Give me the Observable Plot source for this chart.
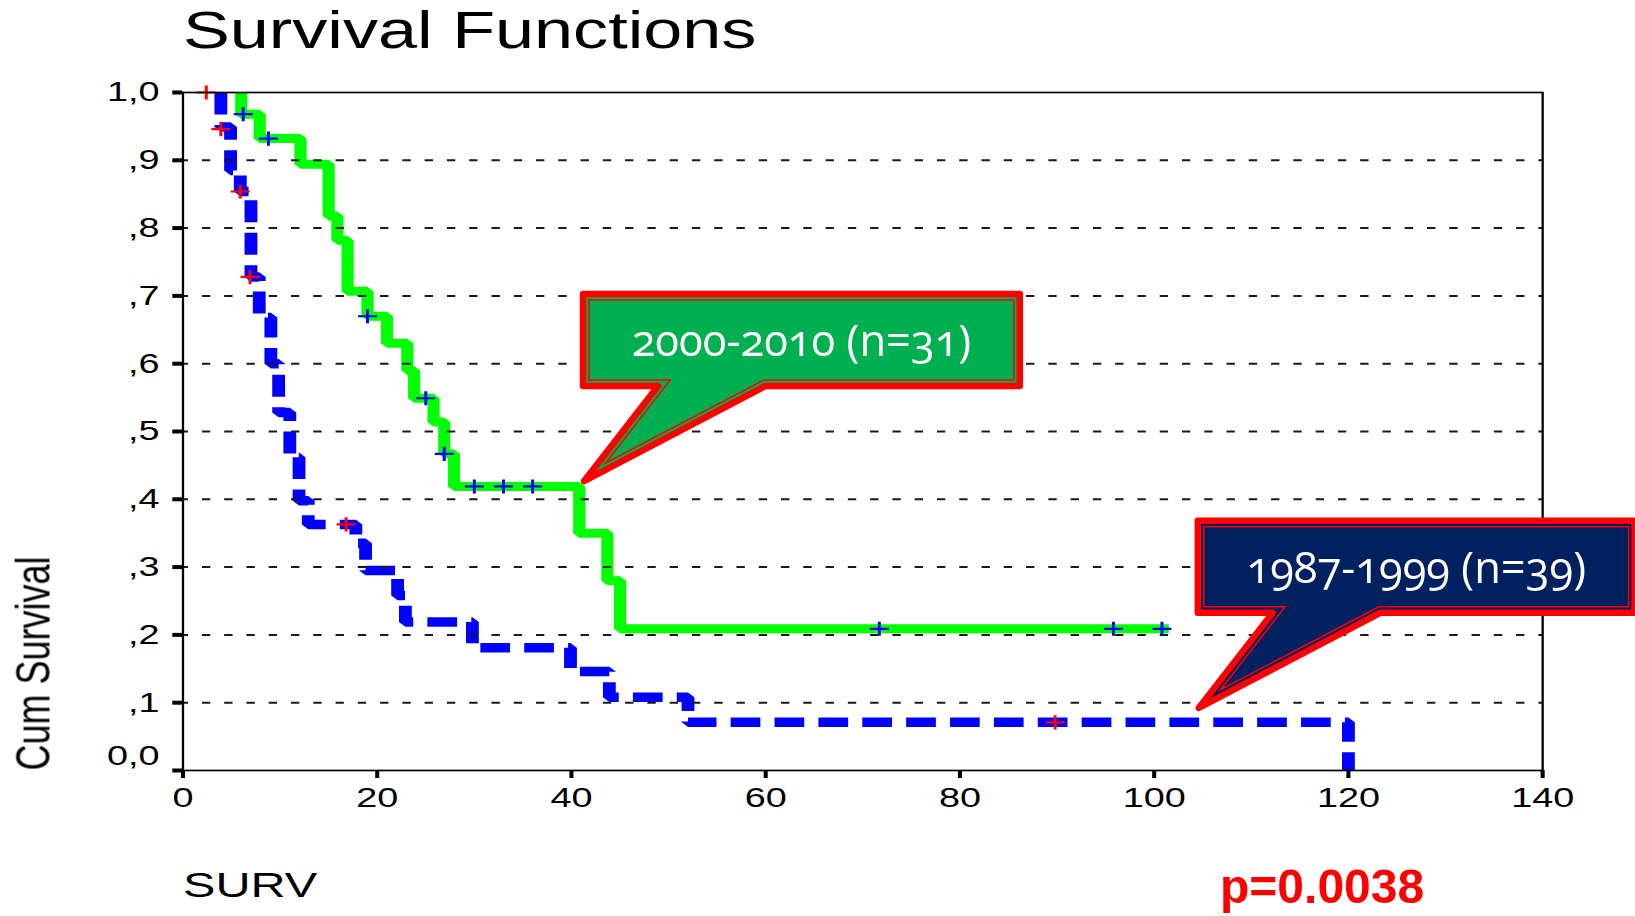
<!DOCTYPE html>
<html><head><meta charset="utf-8">
<script src="https://cdn.jsdelivr.net/npm/d3@7"></script>
<script src="https://cdn.jsdelivr.net/npm/@observablehq/plot@0.6"></script>
<style>
html,body{margin:0;padding:0;background:#fff;}
#page{position:relative;width:1635px;height:916px;overflow:hidden;background:#fff;}
#chart{position:absolute;left:0;top:0;transform-origin:0 0;}
#overlay{position:absolute;left:0;top:0;}
</style></head>
<body><div id="page"><div id="chart"></div><svg id="overlay" width="1635" height="916"></svg></div>
<script>
// ---------------- data ----------------
const xTicks = [0, 20, 40, 60, 80, 100, 120, 140];
const xTickLabels = ["0", "20", "40", "60", "80", "100", "120", "140"];
const yTicks = [0, 0.1, 0.2, 0.3, 0.4, 0.5, 0.6, 0.7, 0.8, 0.9, 1.0];
const yTickLabels = ["0,0", ",1", ",2", ",3", ",4", ",5", ",6", ",7", ",8", ",9", "1,0"];

const chartTitle = "Survival Functions";
const xTitle = "SURV";
const yTitle = "Cum Survival";
const pValueText = "p=0.0038";

// 2000-2010 (n=31) – green step curve
const recentLabel = "2000-2010 (n=31)";
const recentTimes = [6.0, 7.9, 12.1, 15.0, 15.9, 16.95, 19.0, 21.0, 23.1, 23.8, 25.8, 26.9, 27.9, 40.8, 43.7, 45.0];
const recentSurv  = [0.968, 0.932, 0.894, 0.818, 0.782, 0.707, 0.670, 0.630, 0.590, 0.549, 0.514, 0.467, 0.419, 0.350, 0.280, 0.209];
const recentLastFollowUp = 101.5;
const recentCensorTimes = [6.2, 8.8, 19.0, 25.0, 26.9, 30.0, 33.0, 36.0, 71.7, 95.8, 100.8];
const recentCensorSurv  = [0.968, 0.932, 0.670, 0.549, 0.467, 0.419, 0.419, 0.419, 0.209, 0.209, 0.209];

// 1987-1999 (n=39) – blue dashed step curve
const earlyLabel = "1987-1999 (n=39)";
const earlyTimes = [3.9, 4.9, 5.9, 7.0, 7.85, 9.05, 9.85, 11.0, 11.95, 12.9, 17.8, 18.8, 22.1, 22.9, 29.8, 39.9, 43.9, 52.0, 120.0];
const earlySurv  = [0.949, 0.885, 0.854, 0.728, 0.668, 0.600, 0.528, 0.462, 0.398, 0.363, 0.335, 0.295, 0.258, 0.219, 0.181, 0.146, 0.108, 0.071, 0.0];
const earlyCensorTimes = [2.4, 3.9, 5.9, 6.9, 16.8, 89.8];
const earlyCensorSurv  = [1.0, 0.946, 0.854, 0.728, 0.363, 0.071];

// callout anchors (data units the pointer touches)
const calloutLabels = [recentLabel, earlyLabel];
const calloutTipT = [41.1, 104.4];
const calloutTipS = [0.423, 0.0885];
const calloutFills = ["#00b050", "#002060"];

// ---------------- build ----------------
function stepPoints(times, surv, end) {
  const pts = [{t: times[0], s: 1}];
  times.forEach((t, i) => pts.push({t, s: surv[i]}));
  if (end != null) pts.push({t: end, s: surv[surv.length - 1]});
  return pts;
}
const recentPts = stepPoints(recentTimes, recentSurv, recentLastFollowUp);
const earlyPts = stepPoints(earlyTimes, earlySurv, null);
const recentCens = recentCensorTimes.map((t, i) => ({t, s: recentCensorSurv[i]}));
const earlyCens = earlyCensorTimes.map((t, i) => ({t, s: earlyCensorSurv[i]}));

const k = 1.35;              // horizontal stretch of the original SPSS picture
const W = 1635 / k;
const font = "'Liberation Sans', Arial, sans-serif";
const yTickSize = 7.4, yTickPad = 10;

const plot = Plot.plot({
  width: W, height: 916,
  marginLeft: 182.3 / k, marginRight: W - 1542 / k, marginTop: 92, marginBottom: 146,
  x: {domain: [0, 140]},
  y: {domain: [0, 1]},
  style: {fontFamily: font, background: "white", color: "#000", overflow: "visible"},
  marks: [
    Plot.line(recentPts, {x: "t", y: "s", curve: "step-after", stroke: "#00ff00", strokeWidth: 9, strokeLinejoin: "miter", strokeLinecap: "butt"}),
    Plot.line(earlyPts, {x: "t", y: "s", curve: "step-after", stroke: "#0000ff", strokeWidth: 9.5, strokeLinejoin: "miter", strokeLinecap: "butt", strokeDasharray: "22,10.5"}),
    Plot.ruleY(yTicks.filter(d => d > 0 && d < 1), {stroke: "#1a1a1a", strokeWidth: 2, strokeDasharray: "6.2,10.3", strokeDashoffset: 2}),
    Plot.dot(recentCens, {x: "t", y: "s", symbol: "plus", r: 4.6, stroke: "#0000ff", strokeWidth: 2.2}),
    Plot.dot(earlyCens, {x: "t", y: "s", symbol: "plus", r: 4.6, stroke: "#ff0000", strokeWidth: 2.2}),
    Plot.frame({stroke: "#000", strokeWidth: 1.7}),
    Plot.axisX({ticks: xTicks, tickFormat: d => xTickLabels[xTicks.indexOf(d)], tickSize: 8, tickPadding: 9, strokeWidth: 3, fontSize: 28, label: null}),
    Plot.axisY({ticks: yTicks, tickFormat: d => (d === 0 ? "" : yTickLabels[yTicks.indexOf(d)]), tickSize: yTickSize, tickPadding: yTickPad, strokeWidth: 4, fontSize: 28, label: null}),
    Plot.text([yTicks[0]], {y: d => d, text: () => yTickLabels[0], frameAnchor: "left", textAnchor: "end", lineAnchor: "middle", dx: -(yTickSize + yTickPad), dy: -14, fontSize: 28, fill: "#000"}),
    Plot.text([chartTitle], {text: d => d, frameAnchor: "top-left", textAnchor: "start", lineAnchor: "bottom", dy: -44, fontSize: 52, fill: "#000"}),
    Plot.text([xTitle], {text: d => d, frameAnchor: "bottom-left", textAnchor: "start", lineAnchor: "bottom", dy: 127, fontSize: 36, fill: "#000"}),
    Plot.text([yTitle], {text: d => d, frameAnchor: "bottom-left", textAnchor: "start", lineAnchor: "bottom", rotate: -90, dx: 48.5 / k - 182.3 / k, dy: 0, fontSize: 36, fill: "#000"})
  ]
});
const chart = document.getElementById("chart");
chart.style.width = W + "px";
chart.style.transform = `scaleX(${k})`;
chart.appendChild(plot);

// ---------------- callouts overlay (unstretched) ----------------
const sx = plot.scale("x"), sy = plot.scale("y");
const ov = d3.select("#overlay");

function offsetPolygon(pts, d) {
  const n = pts.length;
  let area = 0;
  for (let i = 0; i < n; i++) { const [x1, y1] = pts[i], [x2, y2] = pts[(i + 1) % n]; area += x1 * y2 - x2 * y1; }
  const sgn = area > 0 ? 1 : -1;
  const lines = pts.map((p, i) => {
    const q = pts[(i + 1) % n];
    let dx = q[0] - p[0], dy = q[1] - p[1];
    const L = Math.hypot(dx, dy); dx /= L; dy /= L;
    return {px: p[0] - dy * sgn * d, py: p[1] + dx * sgn * d, dx, dy};
  });
  return pts.map((_, i) => {
    const a = lines[(i - 1 + n) % n], b = lines[i];
    const cr = a.dx * b.dy - a.dy * b.dx;
    if (Math.abs(cr) < 1e-9) return [b.px, b.py];
    const t = ((b.px - a.px) * b.dy - (b.py - a.py) * b.dx) / cr;
    return [a.px + a.dx * t, a.py + a.dy * t];
  });
}

const box = {left: -1.7, right: 441.6, top: -192.5, bottom: -94, tailL: 76.5, tailR: 184};
const h = 3.25;
calloutLabels.forEach((label, i) => {
  const X = k * sx.apply(calloutTipT[i]);
  const Y = sy.apply(calloutTipS[i]);
  const u1 = [box.tailL, box.bottom], u2 = [box.tailR, box.bottom];
  const n1 = Math.hypot(...u1), n2 = Math.hypot(...u2);
  let bx = u1[0] / n1 + u2[0] / n2, by = u1[1] / n1 + u2[1] / n2;
  const bn = Math.hypot(bx, by); bx /= bn; by /= bn;
  const rel = [
    [box.left + h, box.top + h], [box.right - h, box.top + h], [box.right - h, box.bottom - h],
    [box.tailR, box.bottom - h], [bx * h, by * h], [box.tailL, box.bottom - h], [box.left + h, box.bottom - h]
  ];
  const pts = rel.map(([a, b]) => [X + a, Y + b]);
  const inner = offsetPolygon(pts, 6);
  const g = ov.append("g");
  g.append("path").attr("d", "M" + pts.join("L") + "Z")
    .attr("fill", calloutFills[i]).attr("stroke", "#ff0000").attr("stroke-width", 6.5).attr("stroke-linejoin", "round");
  g.append("path").attr("d", "M" + inner.join("L") + "Z")
    .attr("fill", "none").attr("stroke", "#ff0000").attr("stroke-width", 1.5).attr("stroke-linejoin", "miter").attr("stroke-miterlimit", 40);
  g.append("text").attr("x", X + (box.left + box.right) / 2).attr("y", Y - 127.3)
    .attr("text-anchor", "middle").attr("fill", "#fff")
    .style("font-family", "'Open Sans', sans-serif").style("font-size", "43.5px")
    .style("font-variant-numeric", "oldstyle-nums")
    .text(label);
});

ov.append("text").attr("x", 1220).attr("y", 903)
  .attr("fill", "#ff0000").style("font-family", font).style("font-weight", "bold").style("font-size", "48px")
  .text(pValueText);
</script>
</body></html>
